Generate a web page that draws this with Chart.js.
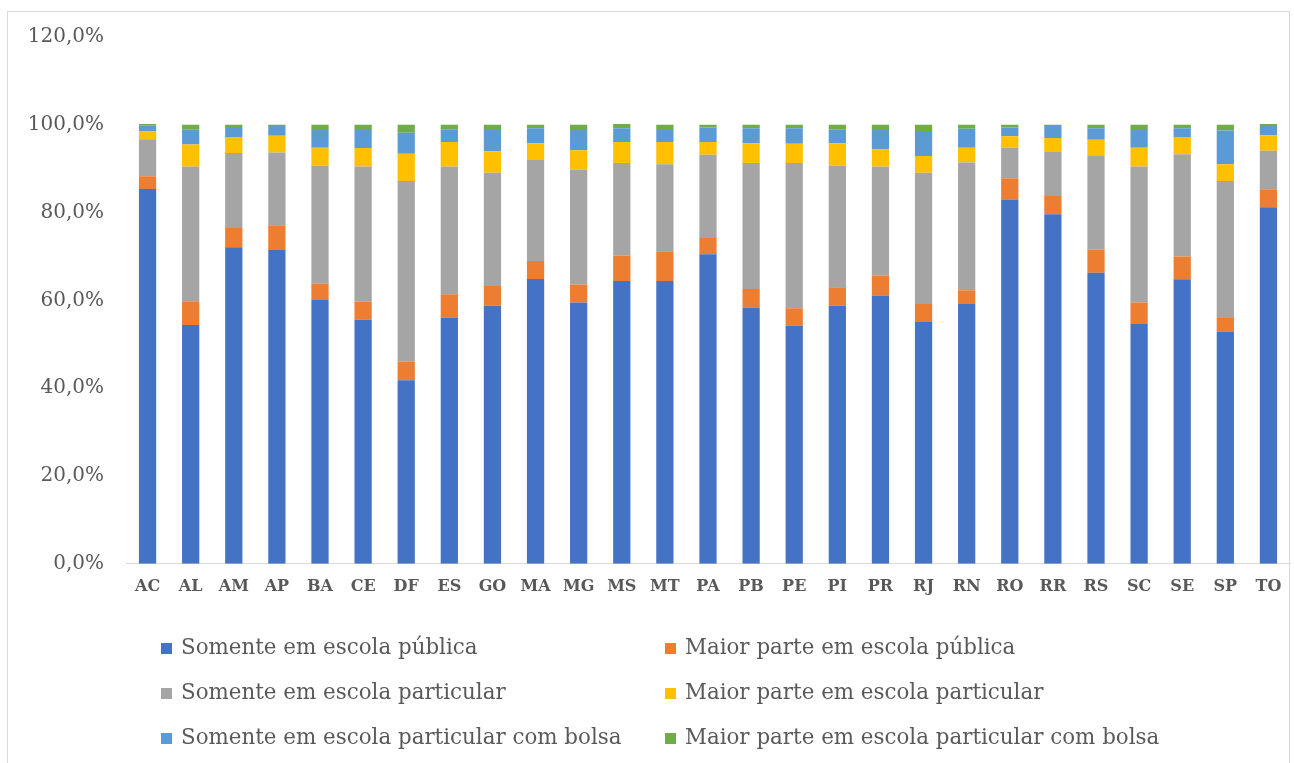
<!DOCTYPE html>
<html>
<head>
<meta charset="utf-8">
<script src="https://cdn.jsdelivr.net/npm/chart.js@4/dist/chart.umd.min.js"></script>
<style>
  html, body { margin: 0; padding: 0; background: #fff; }
  #wrap { position: relative; width: 1294px; height: 763px; overflow: hidden; }
  #frame { position: absolute; left: 7px; top: 11px; width: 1283px; height: 770px; border: 1px solid #d9d9d9; box-sizing: border-box; }
  canvas { position: absolute; left: 0; top: 0; }
</style>
</head>
<body>
<div id="wrap">
  <div id="frame"></div>
  <canvas id="myChart" width="1294" height="763"></canvas>
</div>
<script>
// States (categories)
let states = ['AC','AL','AM','AP','BA','CE','DF','ES','GO','MA','MG','MS','MT','PA','PB','PE','PI','PR','RJ','RN','RO','RR','RS','SC','SE','SP','TO']

// Series values, in percent
let somentePublica = [85.4,54.4,72.1,71.5,60.1,55.6,41.8,56.1,58.8,64.9,59.5,64.4,64.4,70.5,58.4,54.2,58.8,61.1,55.1,59.2,83.0,79.6,66.3,54.6,64.8,52.9,81.2]
let maiorPublica = [2.9,5.4,4.4,5.6,3.7,4.1,4.2,5.3,4.5,4.1,4.1,5.8,6.8,3.7,4.2,4.0,4.2,4.6,4.1,3.1,4.8,4.2,5.3,4.9,5.2,3.1,4.1]
let somenteParticular = [8.4,30.7,17.1,16.6,26.9,30.8,41.2,29.1,25.8,23.0,26.2,21.1,19.8,19.0,28.7,33.1,27.7,24.8,29.9,29.1,7.0,10.0,21.3,31.0,23.3,31.2,8.8]
let maiorParticular = [1.8,5.0,3.6,3.8,4.1,4.2,6.2,5.6,4.9,3.8,4.4,4.8,5.1,2.9,4.5,4.4,5.1,3.9,3.8,3.4,2.6,3.2,3.7,4.3,3.9,3.8,3.5]
let somenteBolsa = [1.3,3.4,2.3,2.2,4.0,4.1,4.8,2.9,4.8,3.4,4.6,3.1,2.7,3.3,3.4,3.5,3.1,4.4,5.7,4.3,2.0,2.7,2.6,4.0,2.0,7.7,2.1]
let maiorBolsa = [0.4,1.1,0.5,0.3,1.2,1.2,1.8,1.0,1.2,0.8,1.2,1.0,1.2,0.6,0.8,0.8,1.1,1.2,1.4,0.9,0.6,0.3,0.8,1.2,0.8,1.3,0.5]

// Y axis ticks
let yTicks = [0,20,40,60,80,100,120]

let seriesNames = [
  'Somente em escola pública',
  'Maior parte em escola pública',
  'Somente em escola particular',
  'Maior parte em escola particular',
  'Somente em escola particular com bolsa',
  'Maior parte em escola particular com bolsa'
]
let seriesData = [somentePublica, maiorPublica, somenteParticular, maiorParticular, somenteBolsa, maiorBolsa]
let seriesColors = ['#4472C4','#ED7D31','#A5A5A5','#FFC000','#5B9BD5','#70AD47']

let serif = "'DejaVu Serif', serif"

// Legend in two columns, drawn on the canvas
let twoColumnLegend = {
  id: 'twoColumnLegend',
  afterDraw(chart) {
    let ctx = chart.ctx
    ctx.save()
    ctx.font = '21.4px ' + serif
    ctx.textBaseline = 'middle'
    chart.data.datasets.forEach(function(ds, i) {
      let col = i % 2
      let row = Math.floor(i / 2)
      let x = col === 0 ? 161 : 665
      let y = 648 + row * 45
      ctx.fillStyle = ds.backgroundColor
      ctx.fillRect(x, y - 5, 11, 11)
      ctx.fillStyle = '#595959'
      ctx.fillText(ds.label, x + 20, y)
    })
    ctx.restore()
  }
}

new Chart(document.getElementById('myChart'), {
  type: 'bar',
  data: {
    labels: states,
    datasets: seriesNames.map(function(name, i) {
      return {
        label: name,
        data: seriesData[i],
        backgroundColor: seriesColors[i],
        borderWidth: 0,
        barPercentage: 0.4,
        categoryPercentage: 1.0
      }
    })
  },
  options: {
    responsive: false,
    animation: false,
    layout: { padding: { top: 37, right: 4, bottom: 162, left: 0 } },
    plugins: {
      legend: { display: false },
      tooltip: { enabled: false }
    },
    scales: {
      x: {
        stacked: true,
        grid: { display: false },
        border: { display: true, color: '#d9d9d9', width: 1 },
        ticks: { color: '#595959', font: { family: serif, size: 16, weight: 'bold' }, padding: 5 }
      },
      y: {
        stacked: true,
        min: 0,
        max: 120,
        afterBuildTicks(scale) { scale.ticks = yTicks.map(function(v) { return { value: v } }) },
        afterFit(scale) { scale.width = 126 },
        grid: { display: false },
        border: { display: false },
        ticks: {
          color: '#595959',
          font: { family: serif, size: 20 },
          padding: 14,
          callback: function(v) { return v.toFixed(1).replace('.', ',') + '%' }
        }
      }
    }
  },
  plugins: [twoColumnLegend]
})
</script>
</body>
</html>
